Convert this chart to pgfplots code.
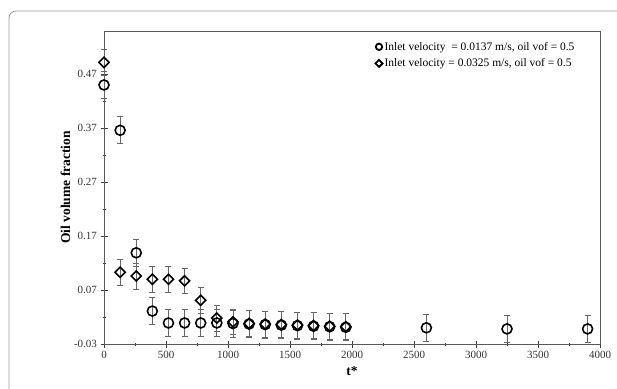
\documentclass[border=0pt]{standalone}
\usepackage{pgfplots}
\pgfplotsset{compat=1.18}
\usepackage{fontspec}
\setmainfont{Liberation Serif}
\begin{document}
\begin{tikzpicture}[x=1pt,y=1pt]
\useasboundingbox (0,0) rectangle (617,388);
\draw[rounded corners=7pt, gray!80, line width=0.8pt] (9,-20) rectangle (640,377);
\begin{axis}[
  at={(104pt,44pt)}, anchor=south west,
  scale only axis, width=496pt, height=313pt,
  xmin=0, xmax=4000, ymin=-0.03, ymax=0.55,
  xtick={0,500,...,4000},
  ytick={-0.03,0.07,0.17,0.27,0.37,0.47},
  yticklabels={-0.03,0.07,0.17,0.27,0.37,0.47},
  minor x tick num=1, minor y tick num=1,
  axis line style={black!65, line width=0.9pt},
  tick style={black!75, line width=0.9pt},
  major tick length=7pt, minor tick length=3pt,
  tick align=center,
  xtick pos=bottom, ytick pos=left,
  /pgf/number format/assume math mode=true,
  /pgf/number format/1000 sep={},
  tick label style={font=\fontsize{11}{13}\selectfont, black!80},
  xlabel={\textbf{t*}}, ylabel={\textbf{Oil volume fraction}},
  label style={font=\fontsize{13.5}{15}\selectfont},
  xlabel style={yshift=-1pt},
  ylabel style={yshift=-3pt},
  legend style={draw=none, fill=none, at={(0.955,0.975)}, anchor=north east,
    font=\fontsize{11.5}{13}\selectfont, row sep=3pt, inner sep=1pt},
  legend cell align=left,
  legend image code/.code={\draw plot coordinates {(0.15cm,0cm)};},
  clip=false,
]
\addplot+[only marks, black, mark=o, mark size=5pt, line width=1.6pt,
  legend image post style={mark size=3.2pt, line width=1.8pt},
  error bars/.cd, y dir=both, y explicit,
  error bar style={black!60, line width=0.7pt},
  error mark options={rotate=90, black!60, mark size=3pt, line width=0.7pt}]
  coordinates {
  (0,0.450) +- (0,0.025)
  (130,0.366) +- (0,0.025)
  (260,0.139) +- (0,0.025)
  (390,0.031) +- (0,0.025)
  (520,0.009) +- (0,0.025)
  (650,0.009) +- (0,0.025)
  (780,0.009) +- (0,0.025)
  (910,0.009) +- (0,0.025)
  (1040,0.008) +- (0,0.025)
  (1170,0.007) +- (0,0.025)
  (1300,0.006) +- (0,0.025)
  (1430,0.005) +- (0,0.025)
  (1560,0.004) +- (0,0.025)
  (1690,0.003) +- (0,0.025)
  (1820,0.002) +- (0,0.025)
  (1950,0.001) +- (0,0.025)
  (2600,0.000) +- (0,0.025)
  (3250,-0.002) +- (0,0.025)
  (3900,-0.002) +- (0,0.025)
  };
\addlegendentry{Inlet velocity\ \ = 0.0137 m/s, oil vof = 0.5}
\addplot+[only marks, black, mark=square, mark options={rotate=45}, mark size=3.6pt, line width=1.6pt,
  legend image post style={mark size=2.5pt, line width=1.8pt},
  error bars/.cd, y dir=both, y explicit,
  error bar style={black!60, line width=0.7pt},
  error mark options={rotate=90, black!60, mark size=3pt, line width=0.7pt}]
  coordinates {
  (0,0.492) +- (0,0.024)
  (130,0.103) +- (0,0.024)
  (260,0.096) +- (0,0.024)
  (390,0.090) +- (0,0.024)
  (520,0.090) +- (0,0.024)
  (650,0.087) +- (0,0.024)
  (780,0.051) +- (0,0.024)
  (910,0.018) +- (0,0.024)
  (1040,0.011) +- (0,0.024)
  (1170,0.008) +- (0,0.024)
  (1300,0.007) +- (0,0.024)
  (1430,0.006) +- (0,0.024)
  (1560,0.005) +- (0,0.024)
  (1690,0.004) +- (0,0.024)
  (1820,0.003) +- (0,0.024)
  (1950,0.002) +- (0,0.024)
  };
\addlegendentry{Inlet velocity = 0.0325 m/s, oil vof = 0.5}
\end{axis}
\end{tikzpicture}
\end{document}
